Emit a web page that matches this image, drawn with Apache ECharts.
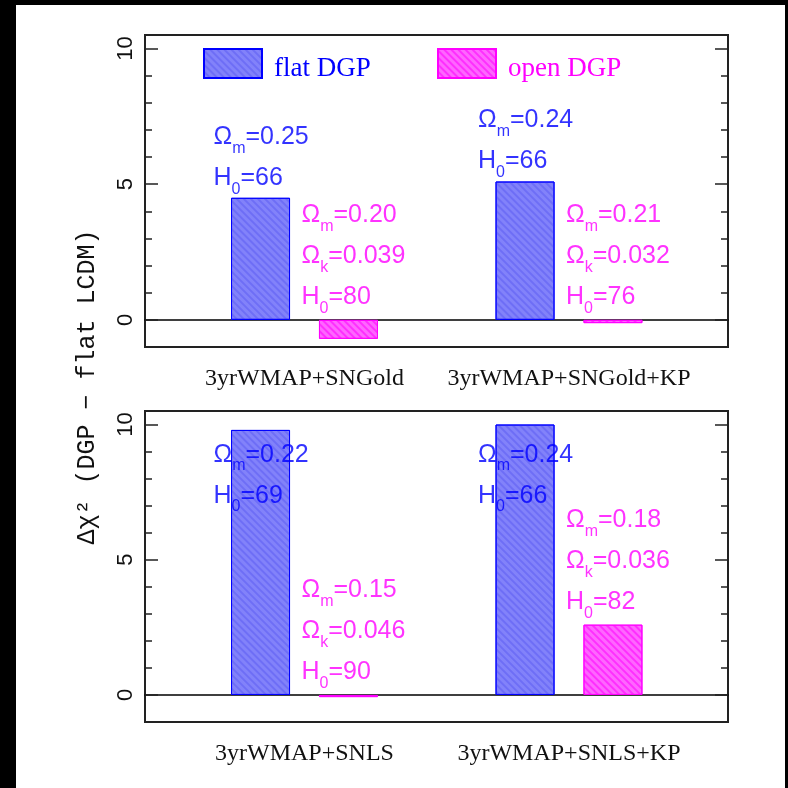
<!DOCTYPE html>
<html>
<head>
<meta charset="utf-8">
<script src="https://cdn.jsdelivr.net/npm/echarts@6/dist/echarts.min.js"></script>
<style>
html,body{margin:0;padding:0;background:#000;width:788px;height:788px;overflow:hidden;}
#chart{position:absolute;left:16px;top:5px;width:769px;height:783px;background:#fff;}
</style>
</head>
<body>
<div id="chart"></div>
<script>
// ---- data ----
const catsTop = ['3yrWMAP+SNGold', '3yrWMAP+SNGold+KP'];
const catsBottom = ['3yrWMAP+SNLS', '3yrWMAP+SNLS+KP'];
const seriesNames = ['flat DGP', 'open DGP'];
const flatTop = [4.5, 5.1];
const openTop = [-0.7, -0.12];
const flatBottom = [9.8, 10.0];
const openBottom = [-0.08, 2.6];
// annotation texts
const flatTopOm = ['0.25', '0.24'];
const flatTopH0 = ['66', '66'];
const openTopOm = ['0.20', '0.21'];
const openTopOk = ['0.039', '0.032'];
const openTopH0 = ['80', '76'];
const flatBotOm = ['0.22', '0.24'];
const flatBotH0 = ['69', '66'];
const openBotOm = ['0.15', '0.18'];
const openBotOk = ['0.046', '0.036'];
const openBotH0 = ['90', '82'];
// annotation anchor heights (data units, top of text block)
const flatTopNoteY = [7.47, 8.1];
const openTopNoteY = [4.59, 4.59];
const flatBotNoteY = [9.61, 9.61];
const openBotNoteY = [4.61, 7.2];
// axis
const yMin = -1, yMax = 10.5;
const majorTicks = [0, 5, 10];
const minorTicks = [1, 2, 3, 4, 6, 7, 8, 9];
const yTitle = 'Δχ² (DGP − flat LCDM)';

// ---- style ----
const BLUE = '#0000ff', PINK = '#ff00ff';
const AX = '#222';
const sansFont = 'Liberation Sans';
const serifFont = 'Liberation Serif';

const blueStyle = {
  color: '#8282fa', borderColor: '#0000ff', borderWidth: 1,
  decal: {symbol: 'rect', symbolSize: 1, color: 'rgba(80,80,240,0.4)', dashArrayX: [1, 0], dashArrayY: [2, 3], rotation: Math.PI / 4}
};
const pinkStyle = {
  color: '#ff66ff', borderColor: '#ff00ff', borderWidth: 1,
  decal: {symbol: 'rect', symbolSize: 1, color: 'rgba(255,0,255,0.55)', dashArrayX: [1, 0], dashArrayY: [2, 3], rotation: Math.PI / 4}
};

const rich = (color) => ({
  t: {fontSize: 25, fontFamily: sansFont, color: color, lineHeight: 41},
  s: {fontSize: 16, fontFamily: sansFont, color: color, verticalAlign: 'middle', padding: [22, 0, 0, 0]}
});

function frameAxes(grid) {
  const base = {type: 'value', gridIndex: grid, min: yMin, max: yMax, splitLine: {show: false}, axisLine: {show: false}};
  return [
    Object.assign({}, base, {position: 'left',
      axisTick: {show: true, inside: true, length: 13, customValues: majorTicks, lineStyle: {color: AX, width: 1.5}},
      axisLabel: {show: true, customValues: majorTicks, rotate: 90, margin: 8, fontSize: 22, fontFamily: sansFont, color: '#111'}}),
    Object.assign({}, base, {position: 'left',
      axisTick: {show: true, inside: true, length: 7, customValues: minorTicks, lineStyle: {color: AX, width: 1.5}},
      axisLabel: {show: false}}),
    Object.assign({}, base, {position: 'right',
      axisTick: {show: true, inside: true, length: 13, customValues: majorTicks, lineStyle: {color: AX, width: 1.5}},
      axisLabel: {show: false}}),
    Object.assign({}, base, {position: 'right',
      axisTick: {show: true, inside: true, length: 7, customValues: minorTicks, lineStyle: {color: AX, width: 1.5}},
      axisLabel: {show: false}})
  ];
}
function barYAxis(grid) {
  return {type: 'value', gridIndex: grid, min: yMin, max: yMax, show: false, splitLine: {show: false}};
}
function frameXAxis(grid) {
  return {type: 'value', gridIndex: grid, min: 0, max: 1, axisLine: {show: true, onZero: true, lineStyle: {color: '#000', width: 1.5}},
    axisTick: {show: false}, axisLabel: {show: false}, splitLine: {show: false}};
}
function barXAxis(grid, cats) {
  return {type: 'category', gridIndex: grid, data: cats, position: 'bottom',
    axisLine: {show: false, onZero: false}, axisTick: {show: false},
    axisLabel: {show: true, interval: 0, margin: 20, fontSize: 24, fontFamily: serifFont, color: '#111'}};
}
function noteSeries(xi, yi, ys, color, dx, fmt) {
  return {type: 'scatter', xAxisIndex: xi, yAxisIndex: yi, symbol: 'circle', symbolSize: 1,
    itemStyle: {color: 'rgba(0,0,0,0)'}, silent: true, z: 10,
    data: ys.map((y, i) => [i, y]),
    label: {show: true, position: [dx, 0], align: 'left', verticalAlign: 'top',
      formatter: (p) => fmt(p.dataIndex), rich: rich(color)}};
}
const flatFmt = (om, h0) => (i) => '{t|Ω}{s|m}{t|=' + om[i] + '}\n{t|H}{s|0}{t|=' + h0[i] + '}';
const openFmt = (om, ok, h0) => (i) => '{t|Ω}{s|m}{t|=' + om[i] + '}\n{t|Ω}{s|k}{t|=' + ok[i] + '}\n{t|H}{s|0}{t|=' + h0[i] + '}';

const FRAME_L = 129, FRAME_W = 583, BAR_L = 156.25, BAR_W = 529;
const TOP_T = 30, TOP_H = 312, BOT_T = 406, BOT_H = 311;
const BW = 59, BGAP = '49%';
const BLUE_DX = -90.5, PINK_DX = -2.5;

const legendText = (color) => ({color: color, fontSize: 27, fontFamily: serifFont, padding: [0, 0, 0, 7],
  rich: {a: {color: color, fontSize: 27, fontFamily: serifFont, padding: [10, 0, 0, 0]}}});

const chart = echarts.init(document.getElementById('chart'), null, {renderer: 'canvas'});
const option = {
  animation: false,
  backgroundColor: '#fff',
  grid: [
    {left: FRAME_L, top: TOP_T, width: FRAME_W, height: TOP_H, show: true, borderColor: AX, borderWidth: 2, backgroundColor: 'transparent'},
    {left: BAR_L, top: TOP_T, width: BAR_W, height: TOP_H},
    {left: FRAME_L, top: BOT_T, width: FRAME_W, height: BOT_H, show: true, borderColor: AX, borderWidth: 2, backgroundColor: 'transparent'},
    {left: BAR_L, top: BOT_T, width: BAR_W, height: BOT_H}
  ],
  xAxis: [frameXAxis(0), barXAxis(1, catsTop), frameXAxis(2), barXAxis(3, catsBottom)],
  yAxis: [].concat(frameAxes(0), [barYAxis(1)], frameAxes(2), [barYAxis(3)]),
  legend: [
    {data: [seriesNames[0]], left: 182, top: 38, itemWidth: 58, itemHeight: 29, icon: 'rect', selectedMode: false,
      formatter: '{a|{name}}', textStyle: legendText(BLUE)},
    {data: [seriesNames[1]], left: 416, top: 38, itemWidth: 58, itemHeight: 29, icon: 'rect', selectedMode: false,
      formatter: '{a|{name}}', textStyle: legendText(PINK)}
  ],
  graphic: [{type: 'text', x: 71, y: 382, rotation: Math.PI / 2,
    style: {text: yTitle, fontSize: 25, fontFamily: 'Liberation Mono', fill: '#111', align: 'center', verticalAlign: 'middle'}}],
  series: [
    {type: 'bar', name: seriesNames[0], xAxisIndex: 1, yAxisIndex: 4, data: flatTop, barWidth: BW, barGap: BGAP, itemStyle: blueStyle},
    {type: 'bar', name: seriesNames[1], xAxisIndex: 1, yAxisIndex: 4, data: openTop, barWidth: BW, barGap: BGAP, itemStyle: pinkStyle},
    {type: 'bar', name: seriesNames[0], xAxisIndex: 3, yAxisIndex: 9, data: flatBottom, barWidth: BW, barGap: BGAP, itemStyle: blueStyle},
    {type: 'bar', name: seriesNames[1], xAxisIndex: 3, yAxisIndex: 9, data: openBottom, barWidth: BW, barGap: BGAP, itemStyle: pinkStyle},
    noteSeries(1, 4, flatTopNoteY, BLUE, BLUE_DX, flatFmt(flatTopOm, flatTopH0)),
    noteSeries(1, 4, openTopNoteY, PINK, PINK_DX, openFmt(openTopOm, openTopOk, openTopH0)),
    noteSeries(3, 9, flatBotNoteY, BLUE, BLUE_DX, flatFmt(flatBotOm, flatBotH0)),
    noteSeries(3, 9, openBotNoteY, PINK, PINK_DX, openFmt(openBotOm, openBotOk, openBotH0))
  ]
};
chart.setOption(option);
</script>
</body>
</html>
